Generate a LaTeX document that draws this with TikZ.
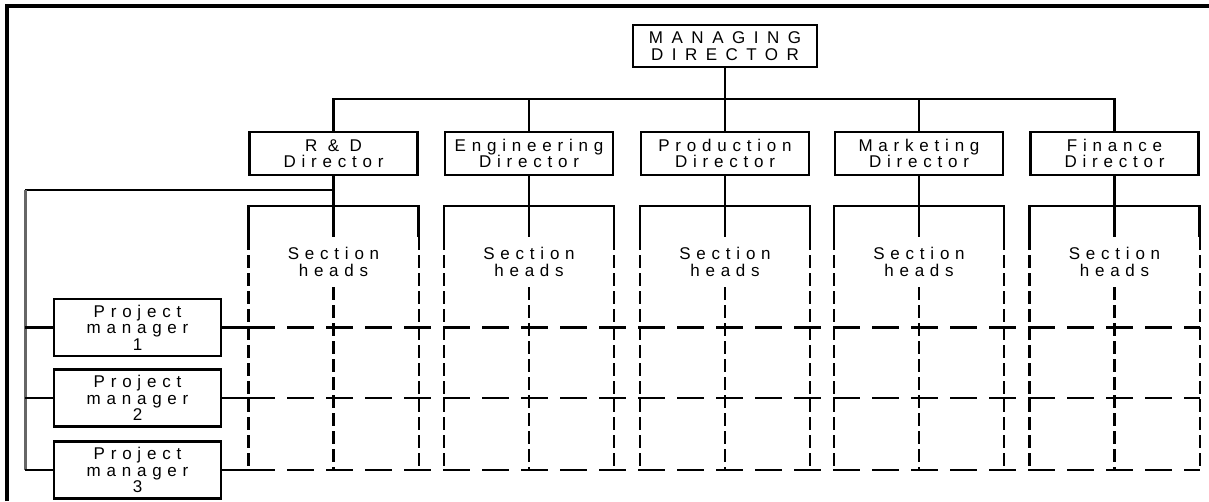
\documentclass[tikz,border=0pt]{standalone}
\usepackage{fontspec}
\setmainfont{Liberation Sans}
\newfontfamily\chartfont{Liberation Sans}[LetterSpace=34]
\newfontfamily\chartwidefont{Liberation Sans}[LetterSpace=50]
\newcommand\orgfont{\chartfont\fontsize{17}{16.5}\selectfont}
\newcommand\topfont{\chartwidefont\fontsize{17}{16.5}\selectfont}
\begin{document}
\begin{tikzpicture}[x=1pt,y=-1pt,
  box/.style={draw, line width=2.3pt, inner sep=0pt, align=center, font=\orgfont},
  dirbox/.style={box, minimum width=168pt, minimum height=43pt},
  pmbox/.style={box, minimum width=167pt, minimum height=57pt},
  conn/.style={line width=2.5pt},
  feeder/.style={line width=3pt, black!60},
  vdash/.style={line width=2.3pt, dash pattern=on 13pt off 5pt},
  hdash/.style={line width=2.3pt, dash pattern=on 27pt off 12pt},
  label/.style={align=center, font=\orgfont, inner sep=0pt}]
\useasboundingbox (0,0) rectangle (1209,501);
\fill[white] (0,0) rectangle (1209,501);
% page frame
\draw[line width=3.5pt] (7,501) -- (7,6) -- (1209,6);

% levels used by the connectors
\coordinate (bus) at (725,99);
\coordinate (brk) at (0,206);
\coordinate (tick) at (0,237);
\coordinate (ctop) at (0,287);
\coordinate (shrow) at (0,262);
\coordinate (feed) at (25,190);

% boxes
\node[box, minimum width=184pt, minimum height=42pt, font=\topfont] (md) at (725,46) {MANAGING\\DIRECTOR};
\node[dirbox] (rd)   at (333.5,153.5) {R \& D\\Director};
\node[dirbox] (eng)  at (529,153.5)   {Engineering\\Director};
\node[dirbox] (prod) at (725,153.5)   {Production\\Director};
\node[dirbox] (mkt)  at (919,153.5)   {Marketing\\Director};
\node[dirbox] (fin)  at (1114.5,153.5) {Finance\\Director};

\node[pmbox] (pm1) at (137.5,327.5) {Project\\manager\\1};
\node[pmbox] (pm2) at (137.5,398)   {Project\\manager\\2};
\node[pmbox] (pm3) at (137.5,470)   {Project\\manager\\3};

% managing director to directors
\draw[conn] (md.south) -- (bus);
\draw[conn] (rd.north) |- (fin.north |- bus) -- (fin.north);
\foreach \d in {eng,prod,mkt} \draw[conn] (\d.north) -- (\d.north |- bus);

% section-head brackets and their columns
\foreach \d/\s in {rd/sh1,eng/sh2,prod/sh3,mkt/sh4,fin/sh5} {
  \node[label] (\s) at (\d.south |- shrow) {Section\\heads};
  \draw[conn] (\d.south) -- (\d.south |- tick);
  \draw[conn] (\d.south west |- tick) -- (\d.south west |- brk) -- (\d.south east |- brk) -- (\d.south east |- tick);
  \draw[vdash] (\d.south west |- tick) -- (\d.south west |- pm3.east);
  \draw[vdash] (\d.south east |- tick) -- (\d.south east |- pm3.east);
  \draw[vdash] (\d.south |- ctop) -- (\d.south |- pm3.east);
}

% project managers fed from the R&D director
\draw[conn] (rd.south |- feed) -- (feed);
\draw[feeder] (feed) -- (feed |- pm3.west);
\foreach \p in {pm1,pm2,pm3} {
  \draw[conn] (feed |- \p.west) -- (\p.west);
  \draw[conn] (\p.east) -- (\p.east -| rd.south west);
  \draw[hdash] (\p.east -| rd.south west) -- (\p.east -| fin.south east);
}
\end{tikzpicture}
\end{document}
